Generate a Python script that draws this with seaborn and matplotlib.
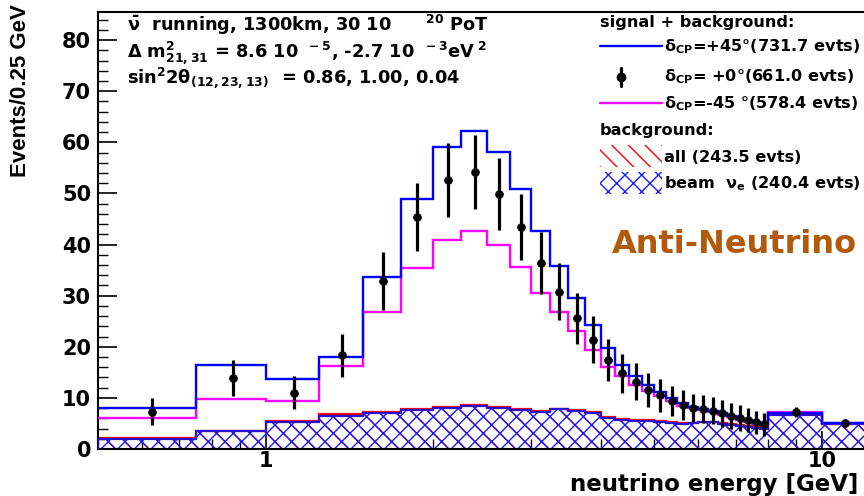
import numpy as np
import pandas as pd
import matplotlib
matplotlib.use("Agg")
import matplotlib.pyplot as plt
import seaborn as sns
from matplotlib.lines import Line2D
from matplotlib.patches import Rectangle
from matplotlib.ticker import MultipleLocator, NullFormatter

# bin edges in GeV (0.25 GeV bins up to 8, then two wide bins)
edges = [0.5, 0.75, 1.0, 1.25, 1.5, 1.75, 2.0, 2.25, 2.5, 2.75, 3.0, 3.25, 3.5,
         3.75, 4.0, 4.25, 4.5, 4.75, 5.0, 5.25, 5.5, 5.75, 6.0, 6.25, 6.5, 6.75,
         7.0, 7.25, 7.5, 7.75, 8.0, 10.0, 12.0]

# signal + background, delta_CP = +45
sig_p45 = [8.1, 16.5, 13.7, 18.0, 33.7, 49.0, 59.0, 62.2, 58.2, 50.9, 42.6, 35.9,
           29.6, 24.3, 19.7, 16.5, 14.3, 12.6, 11.2, 9.9, 9.0, 8.3, 7.9, 7.5,
           7.0, 6.5, 5.9, 5.6, 5.2, 4.9, 7.0, 5.0]
# signal + background, delta_CP = 0 (points)
sig_0 = [7.3, 13.9, 11.0, 18.3, 32.9, 45.4, 52.6, 54.2, 49.9, 43.4, 36.4, 30.8,
         25.6, 21.4, 17.5, 14.8, 13.2, 11.6, 10.5, 9.4, 8.6, 8.0, 7.8, 7.5,
         7.0, 6.5, 6.1, 5.7, 5.2, 4.8, 7.2, 5.1]
sig_0_err = [2.6, 3.5, 3.2, 4.2, 5.7, 6.7, 7.2, 7.3, 7.0, 6.5, 6.0, 5.5,
             5.0, 4.6, 4.1, 3.8, 3.6, 3.3, 3.2, 3.0, 2.9, 2.8, 2.8, 2.7,
             2.6, 2.5, 2.5, 2.4, 2.3, 2.2, 1.0, 0.8]
# signal + background, delta_CP = -45
sig_m45 = [6.0, 9.8, 9.3, 16.3, 26.9, 35.5, 40.9, 42.7, 40.0, 35.7, 30.6, 26.9,
           23.1, 19.4, 16.1, 14.2, 12.5, 11.4, 10.4, 9.3, 8.5, 8.0, 7.6, 7.3,
           6.7, 6.2, 5.7, 5.3, 4.9, 4.6, 7.3, 5.1]
# backgrounds
bkg_all = [2.1, 3.6, 5.5, 6.8, 7.3, 7.9, 8.3, 8.6, 8.2, 7.8, 7.5, 7.9,
           7.7, 7.3, 6.3, 5.9, 5.7, 5.6, 5.4, 5.2, 5.0, 5.1, 5.3, 5.3,
           5.0, 4.8, 4.6, 4.5, 4.3, 4.1, 6.8, 4.9]
bkg_beam = [2.0, 3.5, 5.3, 6.5, 7.1, 7.6, 8.0, 8.4, 8.0, 7.6, 7.3, 7.8,
            7.5, 7.1, 6.1, 5.7, 5.5, 5.4, 5.2, 5.0, 4.9, 5.0, 5.2, 5.2,
            4.9, 4.7, 4.5, 4.4, 4.2, 4.0, 6.7, 4.8]

sns.set_theme(style="ticks")
plt.rcParams['font.family'] = ['DejaVu Sans']
plt.rcParams['font.weight'] = 'bold'
plt.rcParams['mathtext.fontset'] = 'custom'
plt.rcParams['mathtext.rm'] = 'DejaVu Sans:bold'
plt.rcParams['mathtext.it'] = 'DejaVu Sans:bold'
plt.rcParams['mathtext.bf'] = 'DejaVu Sans:bold'
plt.rcParams['mathtext.default'] = 'rm'
plt.rcParams['hatch.linewidth'] = 1.0
plt.rcParams['axes.edgecolor'] = 'black'
plt.rcParams['text.color'] = 'black'
plt.rcParams['xtick.color'] = 'black'
plt.rcParams['ytick.color'] = 'black'
plt.rcParams['xtick.labelcolor'] = 'black'
plt.rcParams['ytick.labelcolor'] = 'black'

W, H = 864, 496


def fx(px):
    return px / W


def fy(py):
    return 1 - py / H


fig = plt.figure(figsize=(W / 100, H / 100), dpi=100)
ax = fig.add_axes([fx(98), fy(449), (866 - 98) / W, (449 - 12) / H])

edges_a = np.array(edges)
centers = (edges_a[:-1] + edges_a[1:]) / 2
df = pd.DataFrame({'energy': centers, 'events': sig_0, 'err': sig_0_err})

# backgrounds
ax.stairs(bkg_all, edges, fill=True, facecolor='none', edgecolor='red',
          hatch='\\\\', lw=0, zorder=1)
ax.stairs(bkg_all, edges, color='red', lw=1.6, zorder=2)
ax.stairs(bkg_beam, edges, fill=True, facecolor='none', edgecolor='#1a1aff',
          hatch='xx', lw=0, zorder=2)
ax.stairs(bkg_beam, edges, color='#2a10d0', lw=1.6, zorder=3)

# signal + background
ax.stairs(sig_m45, edges, color='#ff00ff', lw=1.7, baseline=None, zorder=4)
ax.stairs(sig_p45, edges, color='#0000ff', lw=1.7, baseline=None, zorder=4)

ax.errorbar(df['energy'], df['events'], yerr=df['err'], fmt='none',
            ecolor='black', elinewidth=2.3, capsize=0, zorder=5)
sns.scatterplot(data=df, x='energy', y='events', color='black', s=32,
                edgecolor='black', linewidth=0.5, ax=ax, zorder=6, legend=False)

ax.set_xscale('log')
ax.set_xlim(0.5, 12)
ax.set_ylim(0, 85.5)
ax.set_xticks([1, 10])
ax.set_xticklabels(['1', '10'])
ax.set_xticks([0.6, 0.7, 0.8, 0.9, 2, 3, 4, 5, 6, 7, 8, 9], minor=True)
ax.xaxis.set_minor_formatter(NullFormatter())
ax.yaxis.set_major_locator(MultipleLocator(10))
ax.yaxis.set_minor_locator(MultipleLocator(2))
ax.tick_params(axis='y', which='major', direction='in', length=14, width=1.2,
               labelsize=15, pad=5)
ax.tick_params(axis='y', which='minor', direction='in', length=7, width=1.0)
ax.tick_params(axis='x', which='major', direction='in', length=13, width=1.2,
               labelsize=15, pad=1.5)
ax.tick_params(axis='x', which='minor', direction='in', length=7, width=1.0)
for lab in ax.get_xticklabels() + ax.get_yticklabels():
    lab.set_fontweight('bold')
for sp in ax.spines.values():
    sp.set_linewidth(1.5)
ax.set_xlabel('')
ax.set_ylabel('')

fig.text(fx(21), fy(4), 'Events/0.25 GeV', rotation=90, ha='center', va='top',
         fontsize=16, fontweight='bold',
         family=['Liberation Sans'])
fig.text(fx(858), fy(491), 'neutrino energy [GeV]', ha='right', va='baseline',
         fontsize=16.5, fontweight='bold')

# parameter text
tfs = 12.8
fig.text(fx(127), fy(25), r"$\bar{\nu}$  running, 1300km, 30 10$^{\qquad\ \ 20}$ PoT",
         ha='left', va='center', fontsize=tfs, fontweight='bold')
fig.text(fx(127), fy(52), r"$\Delta$ m$^{2}_{21,31}$ = 8.6 10$^{\ \ -5}$, -2.7 10$^{\ \ -3}$eV$^{\ 2}$",
         ha='left', va='center', fontsize=tfs, fontweight='bold')
fig.text(fx(127), fy(78), r"sin$^{2}$2$\theta_{(12,23,13)}$  = 0.86, 1.00, 0.04",
         ha='left', va='center', fontsize=tfs, fontweight='bold')

# legend
fs = 11.6
fig.text(fx(600), fy(22), 'signal + background:', ha='left', va='center',
         fontsize=fs, fontweight='bold')
fig.add_artist(Line2D([fx(600), fx(662)], [fy(46), fy(46)], color='#0000ff',
                      lw=1.7, transform=fig.transFigure))
fig.text(fx(664), fy(47), r"$\delta_{CP}$=+45°(731.7 evts)", ha='left',
         va='center', fontsize=fs, fontweight='bold')
fig.add_artist(Line2D([fx(621), fx(621)], [fy(68), fy(86)], color='black',
                      lw=2.3, transform=fig.transFigure))
fig.add_artist(Line2D([fx(621)], [fy(77)], color='black', marker='o', ms=6,
                      transform=fig.transFigure))
fig.text(fx(664), fy(77), r"$\delta_{CP}$= +0°(661.0 evts)", ha='left',
         va='center', fontsize=fs, fontweight='bold')
fig.add_artist(Line2D([fx(600), fx(662)], [fy(103), fy(103)], color='#ff00ff',
                      lw=1.7, transform=fig.transFigure))
fig.text(fx(664), fy(104), r"$\delta_{CP}$=-45 °(578.4 evts)", ha='left',
         va='center', fontsize=fs, fontweight='bold')
fig.text(fx(600), fy(131), 'background:', ha='left', va='center',
         fontsize=fs, fontweight='bold')
fig.add_artist(Rectangle((fx(600), fy(167)), 62 / W, 22 / H, facecolor='none',
                         edgecolor='red', hatch='\\\\', lw=0,
                         transform=fig.transFigure))
fig.text(fx(664), fy(158), 'all (243.5 evts)', ha='left', va='center',
         fontsize=fs, fontweight='bold')
fig.add_artist(Rectangle((fx(600), fy(194)), 62 / W, 22 / H, facecolor='none',
                         edgecolor='#1a1aff', hatch='xx', lw=0,
                         transform=fig.transFigure))
fig.text(fx(664), fy(184), r"beam  $\nu_{e}$ (240.4 evts)", ha='left',
         va='center', fontsize=fs, fontweight='bold')

fig.text(fx(857), fy(245), 'Anti-Neutrino', ha='right', va='center',
         color='#b35a0a', fontsize=23, fontweight='bold')

fig.savefig('out.png', dpi=100)
